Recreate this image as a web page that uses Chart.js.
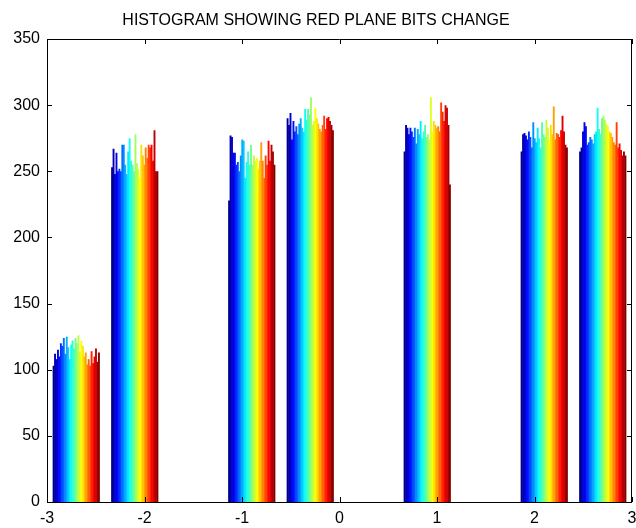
<!DOCTYPE html>
<html lang="en">
  <head>
    <meta charset="UTF-8" />
    <title>Histogram red plane bits change</title>
    <script src="https://cdn.jsdelivr.net/npm/chart.js@4.4.1/dist/chart.umd.min.js"></script>
    <style>
      html, body { margin: 0; padding: 0; background: #fff; }
      .wrap { width: 636px; height: 528px; }
    </style>
  </head>
  <body>
    <div class="wrap"><canvas id="histChart"></canvas></div>
    <script>
      // bin centres (10 bins from -3 to 3, width 0.6)
      const binCenters = [-2.7, -2.1, -1.5, -0.9, -0.3, 0.3, 0.9, 1.5, 2.1, 2.7];
      const xTicks = [-3, -2, -1, 0, 1, 2, 3];
      const yTicks = [0, 50, 100, 150, 200, 250, 300, 350];

      // counts per column (32 columns) for each bin
      const bin1 = [103, 112, 108, 115, 110, 120, 118, 124, 112, 125, 117, 108, 119, 122, 116, 124, 120, 126, 114, 122, 118, 110, 113, 104, 108, 103, 114, 105, 110, 116, 106, 113];
      const bin2 = [253, 267, 248, 264, 250, 252, 250, 270, 270, 255, 248, 265, 275, 258, 255, 250, 278, 256, 252, 245, 270, 262, 255, 268, 260, 270, 268, 270, 258, 281, 250, 250];
      const bin3 = new Array(32).fill(0);
      const bin4 = [228, 277, 276, 264, 264, 255, 257, 250, 262, 274, 273, 245, 257, 265, 255, 270, 255, 262, 258, 260, 252, 258, 272, 258, 245, 262, 255, 273, 258, 270, 265, 255];
      const bin5 = [290, 285, 294, 274, 288, 280, 284, 278, 286, 290, 283, 280, 297, 289, 297, 293, 306, 285, 288, 298, 290, 286, 282, 280, 285, 292, 282, 290, 291, 288, 285, 281];
      const bin6 = new Array(32).fill(0);
      const bin7 = [265, 285, 283, 278, 283, 280, 276, 283, 271, 282, 278, 288, 275, 280, 285, 276, 278, 274, 306, 280, 288, 285, 283, 284, 280, 302, 295, 288, 300, 298, 285, 240];
      const bin8 = new Array(32).fill(0);
      const bin9 = [265, 278, 279, 277, 274, 280, 276, 268, 287, 275, 272, 283, 275, 268, 287, 278, 276, 289, 283, 274, 285, 278, 299, 274, 279, 278, 276, 281, 292, 280, 270, 268];
      const bin10 = [265, 268, 280, 287, 284, 270, 272, 276, 274, 271, 278, 280, 298, 282, 278, 290, 292, 289, 286, 284, 280, 279, 276, 272, 270, 287, 268, 271, 266, 262, 265, 262];
      const bins = [bin1, bin2, bin3, bin4, bin5, bin6, bin7, bin8, bin9, bin10];

      // matlab jet(64) entry j (1..64)
      function jet64(j) {
        const x = j / 64;
        const c = (v) => Math.round(255 * Math.max(0, Math.min(1, v)));
        const r = c(1.5 - Math.abs(4 * x - 3));
        const g = c(1.5 - Math.abs(4 * x - 2));
        const b = c(1.5 - Math.abs(4 * x - 1));
        return `rgb(${r}, ${g}, ${b})`;
      }

      const nCols = bin1.length;
      const datasets = [];
      for (let k = 0; k < nCols; k++) {
        datasets.push({
          label: "col " + (k + 1),
          data: binCenters.map(function (x, i) {
            return { x: x, y: bins[i][k] };
          }),
          backgroundColor: jet64(1 + Math.round((k * 63) / (nCols - 1))),
          borderWidth: 0,
          categoryPercentage: 0.8,
          barPercentage: 1.3,
        });
      }

      // box round the axes and inward ticks, like matlab
      const boxPlugin = {
        id: "box",
        afterDraw: function (chart) {
          const c = chart.ctx;
          const a = chart.chartArea;
          const xs = chart.scales.x;
          const ys = chart.scales.y;
          const len = 5;
          c.save();
          c.strokeStyle = "#000";
          c.lineWidth = 1;
          c.beginPath();
          c.rect(Math.round(a.left) + 0.5, Math.round(a.top) + 0.5, Math.round(a.right - a.left) - 1, Math.round(a.bottom - a.top));
          xTicks.forEach(function (v) {
            const px = Math.round(xs.getPixelForValue(v)) + 0.5;
            c.moveTo(px, a.bottom);
            c.lineTo(px, a.bottom - len);
            c.moveTo(px, a.top);
            c.lineTo(px, a.top + len);
          });
          yTicks.forEach(function (v) {
            const py = Math.round(ys.getPixelForValue(v)) + 0.5;
            c.moveTo(a.left, py);
            c.lineTo(a.left + len, py);
            c.moveTo(a.right, py);
            c.lineTo(a.right - len, py);
          });
          c.stroke();
          c.restore();
        },
      };

      const font = { family: "'Liberation Sans', Arial, sans-serif", size: 16 };
      const ctx = document.querySelector("#histChart").getContext("2d");
      const myChart = new Chart(ctx, {
        type: "bar",
        data: { datasets: datasets },
        options: {
          responsive: true,
          maintainAspectRatio: false,
          devicePixelRatio: 1,
          animation: false,
          layout: { padding: { left: 0, right: 4, top: 0, bottom: 0 } },
          plugins: {
            legend: { display: false },
            tooltip: { enabled: false },
            title: {
              display: true,
              text: "HISTOGRAM SHOWING RED PLANE BITS CHANGE",
              color: "#000",
              font: { family: font.family, size: 16, weight: "normal" },
              padding: { top: 10.5, bottom: 9.3 },
            },
          },
          scales: {
            x: {
              type: "linear",
              min: -3,
              max: 3,
              offset: false,
              grid: { display: false, drawTicks: false },
              border: { display: false },
              afterBuildTicks: function (scale) {
                scale.ticks = xTicks.map((v) => ({ value: v }));
              },
              afterFit: function (scale) {
                scale.height = 26;
                scale.paddingLeft = 0;
                scale.paddingRight = 0;
              },
              ticks: { color: "#000", font: font, padding: 7, maxRotation: 0, autoSkip: false },
            },
            y: {
              type: "linear",
              min: 0,
              max: 350,
              grid: { display: false, drawTicks: false },
              border: { display: false },
              afterBuildTicks: function (scale) {
                scale.ticks = yTicks.map((v) => ({ value: v }));
              },
              afterFit: function (scale) {
                scale.width = 47;
                scale.paddingTop = 0;
                scale.paddingBottom = 0;
              },
              ticks: { color: "#000", font: font, padding: 7 },
            },
          },
        },
        plugins: [boxPlugin],
      });
    </script>
  </body>
</html>
